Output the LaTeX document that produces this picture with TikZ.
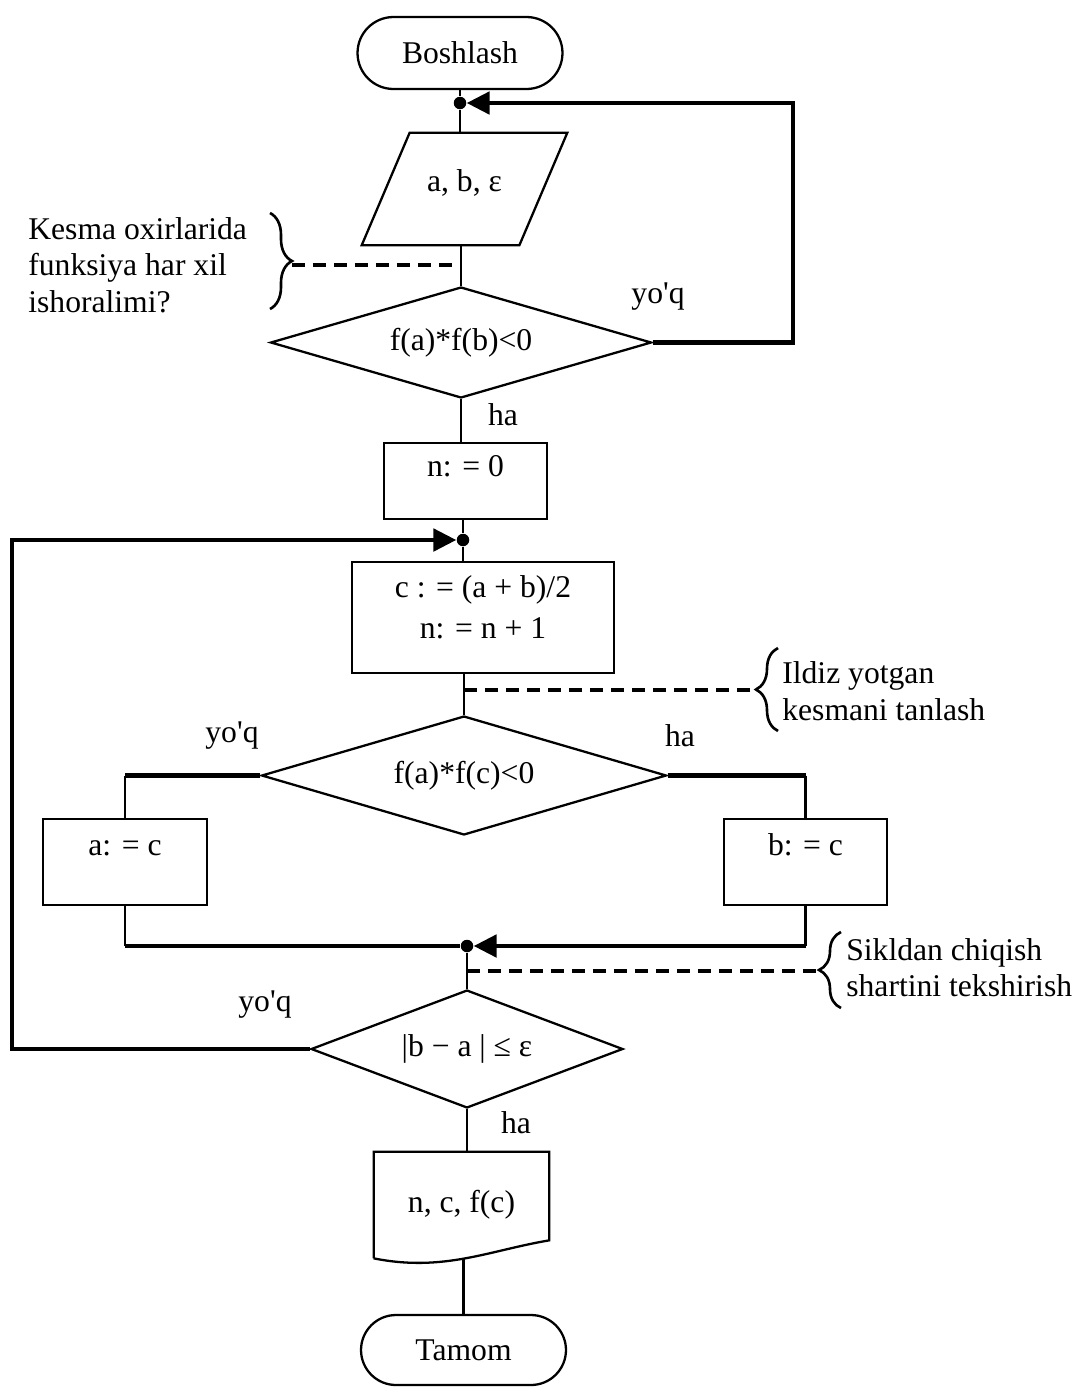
\documentclass[tikz,border=0pt]{standalone}
\usepackage{fontspec}
\setmainfont{Liberation Serif}
\usetikzlibrary{shapes.geometric,arrows.meta,decorations.pathreplacing,calc}

\begin{document}
\begin{tikzpicture}[x=0.02cm,y=-0.02cm,
  font=\fontsize{18}{21}\selectfont,
  every node/.style={inner sep=0pt},
  shapeline/.style={draw, line width=1.3pt},
  terminal/.style={shapeline, rectangle, rounded corners=0.72cm, minimum width=4.1cm, minimum height=1.44cm},
  procbox/.style={shapeline, rectangle},
  decision/.style={shapeline, diamond, aspect=3},
  flow/.style={line width=1.7pt},
  loopline/.style={line width=2.8pt},
  junction/.style={circle, fill, minimum size=0.25cm},
  flowarrow/.style={-{Triangle[length=0.46cm,width=0.44cm]}},
  note/.style={line width=2.2pt, dash pattern=on 0.26cm off 0.16cm},
  annobrace/.style={decorate, decoration={brace, amplitude=0.44cm}, line width=1.5pt},
  remark/.style={align=left, anchor=west, font=\fontsize{18}{20.7}\selectfont}
]
\useasboundingbox (0,0) rectangle (1077,1387);

% ---- blocks of the flowchart ----
\node[terminal] (start) at (460,53) {Boshlash};
\node[junction] (j1) at (460,103) {};
% data input: a parallelogram leaning to the right
\node[minimum width=3.14cm, minimum height=2.24cm, text height=0.45cm, text depth=0.34cm]
      (input) at (464.5,189) {a, b, ε};
\draw[shapeline] ([shift={(-24,0)}]input.south west) -- ([shift={(24,0)}]input.north west)
  -- ([shift={(24,0)}]input.north east) -- ([shift={(-24,0)}]input.south east) -- cycle;
\node[decision, minimum width=7.62cm, minimum height=2.22cm] (d1) at (461,342.5) {f(a)*f(b)<0};
\node[procbox, minimum width=3.26cm, minimum height=1.52cm, text height=0.5cm, text depth=0.7cm]
      (n0) at (465.5,481) {n: = 0};
\node[junction] (j2) at (463,540) {};
\node[procbox, minimum width=5.24cm, minimum height=2.22cm, align=center]
      (calc) at (483,617.5) {c : = (a + b)/2\\[0.08cm]n: = n + 1\rule[-0.43cm]{0pt}{0.1cm}};
\node[decision, minimum width=8.1cm, minimum height=2.38cm] (d2) at (464,775.5) {f(a)*f(c)<0};
\node[procbox, minimum width=3.28cm, minimum height=1.72cm, text height=0.5cm, text depth=0.78cm]
      (seta) at (125,862) {a: = c};
\node[procbox, minimum width=3.26cm, minimum height=1.72cm, text height=0.5cm, text depth=0.78cm]
      (setb) at (805.5,862) {b: = c};
\node[junction] (j3) at (467,946) {};
\node[decision, minimum width=6.24cm, minimum height=2.36cm] (d3) at (467,1049) {|b − a | ≤ ε};
% output document with a wavy lower edge
\node[minimum width=3.5cm, minimum height=2.12cm] (out) at (461.5,1205) {n, c, f(c)};
\draw[shapeline] (out.south west) -- (out.north west) -- (out.north east)
  -- ([shift={(0,-18)}]out.south east)
  .. controls ([shift={(-60,-8)}]out.south east) and ([shift={(70,14)}]out.south west) .. (out.south west);
\node[terminal, minimum height=1.4cm, rounded corners=0.7cm] (stop) at (463.5,1350) {Tamom};

% ---- main flow ----
\draw[flow] (start) -- (j1);
\draw[flow] (j1) -- (j1 |- input.north);
\draw[flow] (input.south -| d1.north) -- (d1.north);
\draw[flow] (d1.south) -- (d1.south |- n0.north);
\draw[flow] (j2 |- n0.south) -- (j2);
\draw[flow] (j2) -- (j2 |- calc.north);
\draw[flow] (d2.north |- calc.south) -- (d2.north);
\draw[flow] (j3) -- (d3.north);
\draw[flow] (d3.south) -- (d3.south |- out.north);
\draw[flow] (stop.north |- out.south) -- (stop.north);

% ---- branches of the second test ----
\coordinate (ka) at (d2.west -| seta.north);
\coordinate (kb) at (d2.east -| setb.north);
\draw[loopline] (d2.west) -- (ka);
\draw[flow] (ka) -- (seta.north);
\draw[loopline] (d2.east) -- (kb);
\draw[flow] (kb) -- (setb.north);
\coordinate (ma) at (seta.south |- j3);
\coordinate (mb) at (setb.south |- j3);
\draw[flow] (seta.south) -- (ma);
\draw[loopline] (ma) -- (j3);
\draw[flow] (setb.south) -- (mb);
\draw[loopline, flowarrow] (mb) -- (j3);

% ---- loops back ----
\coordinate (r1) at (793,103);
\draw[loopline, flowarrow] (d1.east) -| (r1) -- (j1);
\coordinate (l2) at (12,540);
\draw[loopline, flowarrow] (d3.west) -| (l2) -- (j2);

% ---- branch labels ----
\node (y1) at (658,297) {yo\textquotesingle q};
\node (h1) at (503,415) {ha};
\node (y2) at (232,736) {yo\textquotesingle q};
\node (h2) at (680,736) {ha};
\node (y3) at (265,1005) {yo\textquotesingle q};
\node (h3) at (516,1123) {ha};

% ---- comments ----
\draw[annobrace] (270,213) -- (270,309);
\coordinate (b1tip) at (292,265);
\draw[note] (b1tip) -- (b1tip -| d1.north);
\node[remark] (c1) at (28,265) {Kesma oxirlarida\\funksiya har xil\\ishoralimi?};

\draw[annobrace] (778,731) -- (778,648);
\coordinate (b2tip) at (756,690);
\draw[note] (b2tip -| d2.north) -- (b2tip);
\node[remark] (c2) at (782,691) {Ildiz yotgan\\kesmani tanlash};

\draw[annobrace] (841,1008) -- (841,932);
\coordinate (b3tip) at (823,971);
\draw[note] (b3tip -| j3) -- (b3tip);
\node[remark] (c3) at (846,967.5) {Sikldan chiqish\\shartini tekshirish};
\end{tikzpicture}
\end{document}
